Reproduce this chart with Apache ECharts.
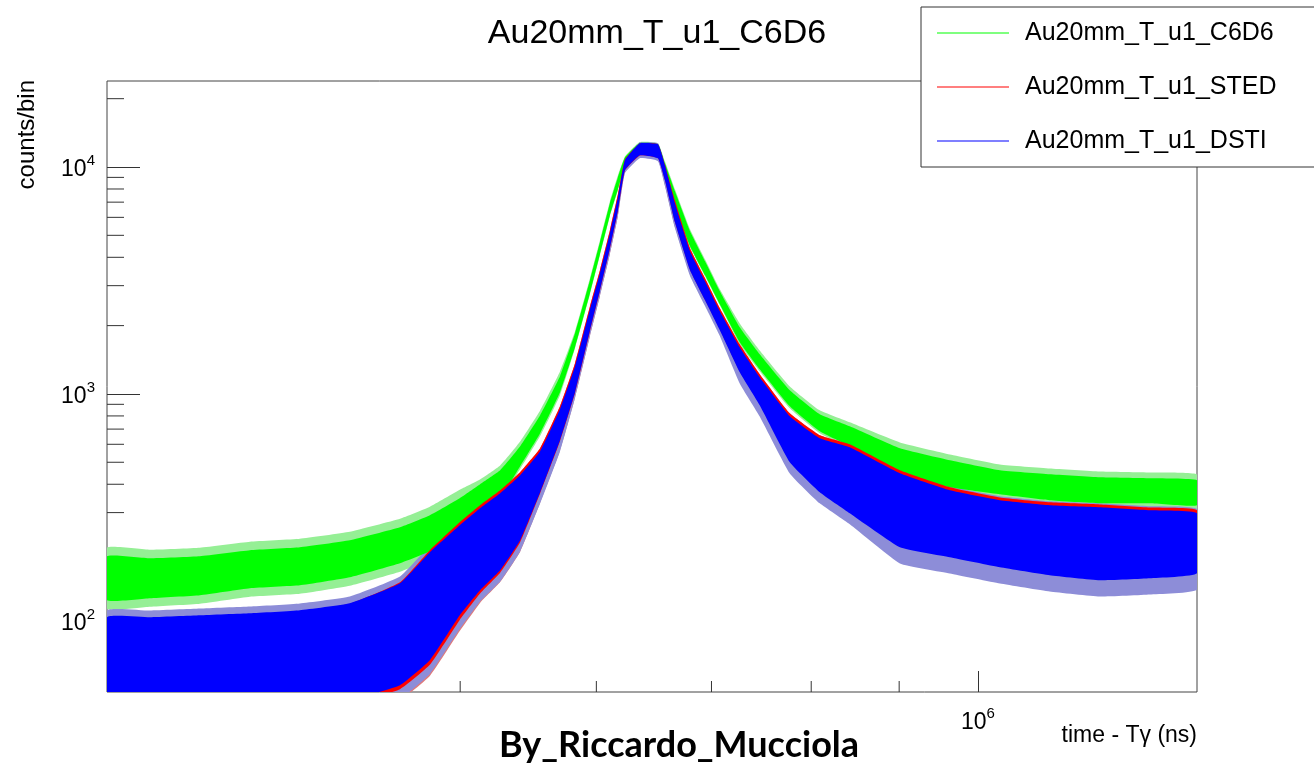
<!DOCTYPE html>
<html><head><meta charset="utf-8">
<script src="https://cdn.jsdelivr.net/npm/echarts@6/dist/echarts.min.js"></script>
<style>html,body{margin:0;padding:0;background:#fff}#c{width:1314px;height:767px}</style>
</head><body><div id="c"></div>
<script>
// ---- data (upper / lower edge of each noisy histogram band) ----
const timeNs = [311600, 330100, 352900, 377300, 403400, 431300, 461300, 480100, 499700, 513500,
  527500, 541800, 556500, 571500, 583100, 594900, 602900, 611000, 617600, 623400,
  636000, 651600, 657700, 666600, 680200, 694000, 707900, 727000, 746700, 777400,
  809200, 842400, 900900, 963200, 1030000, 1101000, 1177000, 1259000, 1341000];
const c6d6Upper = [192.8, 188.9, 192.8, 204.9, 211.2, 226.7, 258.7, 292.2, 347.2, 400.2,
  461.2, 588.3, 806.0, 1197, 1851, 3169, 4659, 6921, 9009, 11000,
  12750, 12600, 10382, 7817, 5210, 3842, 2834, 1967, 1496, 1038,
  814.1, 720.7, 576.5, 510.5, 461.2, 442.9, 429.6, 425.3, 416.8];
const c6d6Lower = [123.4, 125.9, 129.8, 139.3, 143.6, 155.8, 179.6, 202.8, 251.0, 298.2,
  347.2, 480.4, 671.4, 1017, 1606, 2777, 4125, 6128, 7977, 10000,
  11600, 11150, 8916, 6713, 4475, 3334, 2484, 1690, 1285, 882.8,
  685.1, 588.3, 438.4, 388.2, 361.6, 340.2, 330.0, 330.0, 323.4];
const stedUpper = [102, 102, 104, 106, 110, 119, 148, 205, 272, 323,
  376, 452, 576, 882, 1364, 2432, 3504, 5258, 7575, 10800,
  12700, 12580, 10250, 7130, 4385, 3234, 2386, 1656, 1222, 822,
  658, 600, 461, 388, 350, 333, 326, 316, 307];
const stedLower = [37, 37, 38, 39, 40, 43, 50, 64, 101, 132,
  163, 222, 365, 620, 1010, 1890, 2840, 4350, 6400, 9650,
  11250, 10950, 8780, 5720, 3530, 2600, 1930, 1260, 905, 508,
  375, 305, 216, 195, 176, 162, 154, 157, 165];
const dstiUpper = [103.8, 103.8, 105.9, 108.1, 111.5, 119.7, 146.6, 200.8, 264.0, 313.7,
  365.3, 438.5, 559.3, 856.3, 1324, 2361, 3402, 5105, 7355, 10704,
  12718, 12590, 10174, 6921, 4253, 3137, 2314, 1606, 1185, 797.6,
  638.2, 582.4, 447.4, 376.5, 340.2, 323.4, 316.9, 307.4, 298.2];
const dstiLower = [38.4, 38.4, 39.2, 40.0, 41.2, 44.7, 52.1, 67.1, 105.9, 136.5,
  167.2, 226.7, 369.0, 625.3, 1017, 1908, 2863, 4385, 6447, 9673,
  11260, 10923, 8740, 5707, 3508, 2587, 1908, 1246, 891.8, 500.2,
  369.0, 298.2, 211.2, 190.8, 172.4, 159.0, 151.1, 154.2, 162.2];
// how far the sparse single-bin spikes reach beyond the dense band (factor)
const c6d6SpikeUp = [1.09, 1.09, 1.09, 1.09, 1.09, 1.09, 1.09, 1.09, 1.09, 1.05,
  1.05, 1.05, 1.05, 1.05, 1.02, 1.02, 1.02, 1.02, 1.02, 1.01,
  1.01, 1.01, 1.02, 1.02, 1.02, 1.02, 1.02, 1.04, 1.04, 1.04,
  1.04, 1.04, 1.06, 1.06, 1.06, 1.06, 1.06, 1.06, 1.06];
const c6d6SpikeDown = [1.09, 1.09, 1.09, 1.09, 1.09, 1.09, 1.09, 1.09, 1.09, 1.03,
  1.03, 1.03, 1.03, 1.03, 1.01, 1.01, 1.01, 1.01, 1.01, 1.01,
  1.01, 1.01, 1.01, 1.01, 1.01, 1.01, 1.01, 1.02, 1.02, 1.02,
  1.02, 1.02, 1.04, 1.04, 1.04, 1.04, 1.04, 1.04, 1.04];
const stedSpikeDown = [1.12, 1.12, 1.12, 1.12, 1.12, 1.12, 1.12, 1.12, 1.12, 1.10,
  1.10, 1.10, 1.10, 1.10, 1.05, 1.05, 1.05, 1.05, 1.05, 1.02,
  1.02, 1.02, 1.05, 1.05, 1.05, 1.05, 1.05, 1.10, 1.10, 1.10,
  1.10, 1.10, 1.14, 1.14, 1.14, 1.14, 1.14, 1.14, 1.14];
const dstiSpikeUp = [1.07, 1.07, 1.07, 1.07, 1.07, 1.07, 1.07, 1.07, 1.07, 1.02,
  1.02, 1.02, 1.02, 1.02, 1.01, 1.01, 1.01, 1.01, 1.01, 1.01,
  1.01, 1.01, 1.01, 1.01, 1.01, 1.01, 1.01, 1.02, 1.02, 1.02,
  1.02, 1.02, 1.04, 1.04, 1.04, 1.04, 1.04, 1.04, 1.04];
const dstiSpikeDown = [1.15, 1.15, 1.15, 1.15, 1.15, 1.15, 1.15, 1.15, 1.15, 1.12,
  1.12, 1.12, 1.12, 1.12, 1.06, 1.06, 1.06, 1.06, 1.06, 1.03,
  1.03, 1.03, 1.06, 1.06, 1.06, 1.06, 1.06, 1.12, 1.12, 1.12,
  1.12, 1.12, 1.18, 1.18, 1.18, 1.18, 1.18, 1.18, 1.18];
const seriesNames = ['Au20mm_T_u1_C6D6', 'Au20mm_T_u1_STED', 'Au20mm_T_u1_DSTI'];
const xMinorTicks = [500000, 600000, 700000, 800000, 900000];
const yMinorTicks = [50, 60, 70, 80, 90, 200, 300, 400, 500, 600, 700, 800, 900,
  2000, 3000, 4000, 5000, 6000, 7000, 8000, 9000, 20000];
const xRange = [311600, 1341000];
const yRange = [48.6, 23930];

const FONT = '"Liberation Sans", Arial, Helvetica, sans-serif';
const chart = echarts.init(document.getElementById('c'), null, {renderer: 'canvas'});

function clipOf(params) {
  const cs = params.coordSys;
  return {type: 'rect', shape: {x: cs.x, y: cs.y, width: cs.width, height: cs.height}};
}

// filled band between lower and upper values; optional spike factors widen it (halo layer)
function bandSeries(name, upper, lower, spikeUp, spikeDown, fill, z) {
  const data = timeNs.map((t, i) => [t,
    lower[i] / (spikeDown ? spikeDown[i] : 1),
    upper[i] * (spikeUp ? spikeUp[i] : 1)]);
  return {
    type: 'custom', name, xAxisIndex: 0, yAxisIndex: 0, z,
    itemStyle: {color: fill},
    data, encode: {x: 0, y: [1, 2]},
    silent: true,
    renderItem(params, api) {
      if (params.dataIndex !== 0) return null;
      const up = [], lo = [];
      data.forEach(d => {
        up.push(api.coord([d[0], d[2]]));
        lo.push(api.coord([d[0], d[1]]));
      });
      return {
        type: 'polygon',
        shape: {points: up.concat(lo.reverse()), smooth: 0.12},
        style: {fill: fill, stroke: null},
        clipPath: clipOf(params)
      };
    }
  };
}

function tickSeries(values, axis, len) {
  return {
    type: 'custom', name: axis + 'minor', xAxisIndex: 0, yAxisIndex: 0, z: 1, silent: true,
    data: values.map(v => axis === 'x' ? [v, yRange[0]] : [xRange[0], v]),
    renderItem(params, api) {
      const p = api.coord([api.value(0), api.value(1)]);
      const cs = params.coordSys;
      const shape = axis === 'x'
        ? {x1: p[0], y1: cs.y + cs.height, x2: p[0], y2: cs.y + cs.height - len}
        : {x1: cs.x, y1: p[1], x2: cs.x + len, y2: p[1]};
      return {type: 'line', shape, style: {stroke: '#333', lineWidth: 1}};
    }
  };
}

const supFmt = v => {
  const e = Math.log10(v);
  if (Math.abs(e - Math.round(e)) > 1e-6) return '';
  return '{b|10}{s|' + Math.round(e) + '}';
};
const supRich = {
  b: {fontSize: 23, fontFamily: FONT, color: '#000', verticalAlign: 'bottom', lineHeight: 28},
  s: {fontSize: 15, fontFamily: FONT, color: '#000', verticalAlign: 'top', lineHeight: 15}
};

chart.setOption({
  animation: false,
  backgroundColor: '#fff',
  title: {
    text: 'Au20mm_T_u1_C6D6', left: 'center', top: 12,
    textStyle: {fontSize: 34, fontWeight: 'normal', color: '#000', fontFamily: FONT}
  },
  legend: {
    data: seriesNames.map(n => ({name: n, icon: 'rect'})),
    orient: 'vertical', left: 921, top: 7,
    itemWidth: 72, itemHeight: 1, itemGap: 24,
    padding: [11, 40, 11, 16],
    backgroundColor: '#fff', borderColor: '#333', borderWidth: 1, borderRadius: 0,
    textStyle: {fontSize: 25, color: '#000', fontFamily: FONT, lineHeight: 30, padding: [0, 0, 0, 11]},
    selectedMode: false, z: 10
  },
  grid: {left: 107, top: 81, width: 1090, height: 611, show: true, borderColor: '#444', borderWidth: 1, backgroundColor: 'transparent'},
  xAxis: {
    type: 'log', logBase: 10, min: xRange[0], max: xRange[1],
    axisLine: {show: false},
    axisTick: {show: true, inside: true, length: 21, lineStyle: {color: '#333'}},
    axisLabel: {formatter: supFmt, rich: supRich, margin: 14, showMinLabel: false, showMaxLabel: false},
    splitLine: {show: false}, minorTick: {show: false}
  },
  yAxis: {
    type: 'log', logBase: 10, min: yRange[0], max: yRange[1],
    axisLine: {show: false},
    axisTick: {show: true, inside: true, length: 33, lineStyle: {color: '#333'}},
    axisLabel: {formatter: supFmt, rich: supRich, margin: 12, showMinLabel: false, showMaxLabel: false},
    splitLine: {show: false}, minorTick: {show: false}
  },
  graphic: [
    {type: 'text', x: 27, y: 80, rotation: Math.PI / 2, z: 5,
      style: {text: 'counts/bin', fontSize: 24, fontFamily: FONT, fill: '#000', align: 'right', verticalAlign: 'middle'}},
    {type: 'text', x: 1197, y: 736, z: 5,
      style: {text: 'time - T\u03b3 (ns)', fontSize: 23, fontFamily: FONT, fill: '#000', align: 'right', verticalAlign: 'middle'}},
    {type: 'text', x: 679, y: 745, z: 5,
      style: {text: 'By_Riccardo_Mucciola', fontSize: 36, fontWeight: 'bold', fontFamily: 'Lato, "Open Sans", sans-serif', fill: '#000', align: 'center', verticalAlign: 'middle'}}
  ],
  series: [
    tickSeries(xMinorTicks, 'x', 11),
    tickSeries(yMinorTicks, 'y', 17),
    // spike halos (drawn beneath every dense band)
    bandSeries('c6d6Spikes', c6d6Upper, c6d6Lower, c6d6SpikeUp, c6d6SpikeDown, '#95ef95', 2),
    bandSeries('stedSpikes', stedUpper, stedLower, null, stedSpikeDown, '#e07a7a', 2),
    bandSeries('dstiSpikes', dstiUpper, dstiLower, dstiSpikeUp, dstiSpikeDown, '#8d8dd8', 2),
    // dense bands, drawn in ROOT order: C6D6, STED, DSTI
    bandSeries(seriesNames[0], c6d6Upper, c6d6Lower, null, null, '#00ff00', 3),
    bandSeries(seriesNames[1], stedUpper, stedLower, null, null, '#ff0000', 4),
    bandSeries(seriesNames[2], dstiUpper, dstiLower, null, null, '#0000ff', 5)
  ]
});
</script></body></html>
